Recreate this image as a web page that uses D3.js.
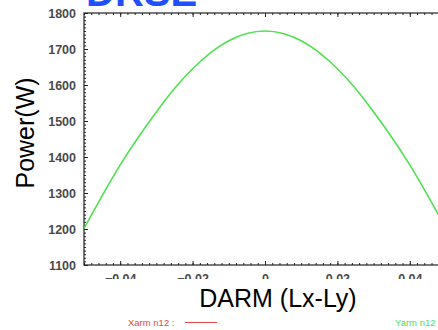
<!DOCTYPE html>
<html>
<head>
<meta charset="utf-8">
<style>
    body { margin: 0; background: #fff; }
    svg { display: block; font-family: Arial, 'Liberation Sans', sans-serif; }
    .tick text { fill: #4a4a4a; font-weight: bold; font-size: 12.5px; }
    .domain { display: none; }
    .tick line { stroke: #222; }
</style>
</head>
<body>
<svg width="438" height="330"></svg>
<script src="https://d3js.org/d3.v7.min.js"></script>
<script>
    // DARM offset (m) and circulating power in the Y arm (W)
    const darm = [-0.05, -0.045, -0.04, -0.035, -0.03, -0.025, -0.02, -0.015, -0.01, -0.005,
                  0, 0.005, 0.01, 0.015, 0.02, 0.025, 0.03, 0.035, 0.04, 0.045, 0.05]
    const yarmPower = [1202, 1292, 1378, 1455, 1525, 1590, 1645, 1690, 1723, 1743,
                       1750, 1743, 1723, 1690, 1645, 1590, 1525, 1455, 1378, 1292, 1202]

    const xTicks = [-0.04, -0.02, 0, 0.02, 0.04]
    const yTicks = [1100, 1200, 1300, 1400, 1500, 1600, 1700, 1800]

    const svg = d3.select("svg")
    const margin = {top: 13, left: 84, bottom: 265, right: 446}

    const x = d3.scaleLinear().domain([-0.05, 0.05]).range([margin.left, margin.right])
    const y = d3.scaleLinear().domain([1100, 1800]).range([margin.bottom, margin.top])

    // x labels are half hidden under the axis title box
    svg.append("clipPath").attr("id", "xlabels")
        .append("rect").attr("x", 0).attr("y", 0).attr("width", 438).attr("height", 279)

    // title, mostly above the top edge
    svg.append("text")
        .attr("x", 86).attr("y", 6)
        .style("font-size", "40px").style("font-weight", "bold")
        .style("fill", "#1f4fff")
        .text("DRSE")

    // frame
    svg.append("rect")
        .attr("x", margin.left).attr("y", margin.top)
        .attr("width", margin.right - margin.left)
        .attr("height", margin.bottom - margin.top)
        .style("fill", "none").style("stroke", "#222").style("stroke-width", 1.2)

    // minor ticks
    const xMinor = d3.range(-0.05, 0.0501, 0.002)
    const yMinor = d3.range(1100, 1801, 10)
    svg.append("g").attr("transform", `translate(0, ${margin.bottom})`)
        .call(d3.axisBottom(x).tickValues(xMinor).tickSize(-2).tickFormat(""))
    svg.append("g").attr("transform", `translate(0, ${margin.top})`)
        .call(d3.axisTop(x).tickValues(xMinor).tickSize(-2).tickFormat(""))
    svg.append("g").attr("transform", `translate(${margin.left}, 0)`)
        .call(d3.axisLeft(y).tickValues(yMinor).tickSize(-2).tickFormat(""))

    // major ticks with labels
    svg.append("g").attr("clip-path", "url(#xlabels)")
        .append("g").attr("class", "x axis")
        .attr("transform", `translate(0, ${margin.bottom})`)
        .call(d3.axisBottom(x).tickValues(xTicks).tickSize(-4).tickPadding(9)
            .tickFormat(d => d === 0 ? "0" : d3.format(".2f")(d)))
    svg.append("g")
        .attr("transform", `translate(0, ${margin.top})`)
        .call(d3.axisTop(x).tickValues(xTicks).tickSize(-4).tickFormat(""))
    svg.append("g").attr("class", "y axis")
        .attr("transform", `translate(${margin.left}, 0)`)
        .call(d3.axisLeft(y).tickValues(yTicks).tickSize(-4).tickPadding(8)
            .tickFormat(d3.format("d")))

    // curve
    const line = d3.line()
        .x((d, i) => x(darm[i]))
        .y(d => y(d))
        .curve(d3.curveNatural)

    svg.append("path")
        .datum(yarmPower)
        .attr("d", line)
        .style("fill", "none")
        .style("stroke", "#50e050")
        .style("stroke-width", 1.6)

    svg.append("text")
        .attr("x", 278).attr("y", 307)
        .attr("text-anchor", "middle")
        .style("font-size", "25px")
        .text("DARM (Lx-Ly)")

    svg.append("text")
        .attr("transform", "translate(34, 133) rotate(-90)")
        .attr("text-anchor", "middle")
        .style("font-size", "25px")
        .text("Power(W)")

    // legend
    svg.append("text")
        .attr("x", 128).attr("y", 326)
        .style("font-size", "9.5px").style("fill", "#e84848")
        .text("Xarm n12 :")
    svg.append("line")
        .attr("x1", 185).attr("x2", 217).attr("y1", 322.5).attr("y2", 322.5)
        .style("stroke", "#e84848").style("stroke-width", 1)
    svg.append("text")
        .attr("x", 395).attr("y", 326)
        .style("font-size", "9.5px").style("fill", "#50e050")
        .text("Yarm n12 :")
</script>
</body>
</html>
